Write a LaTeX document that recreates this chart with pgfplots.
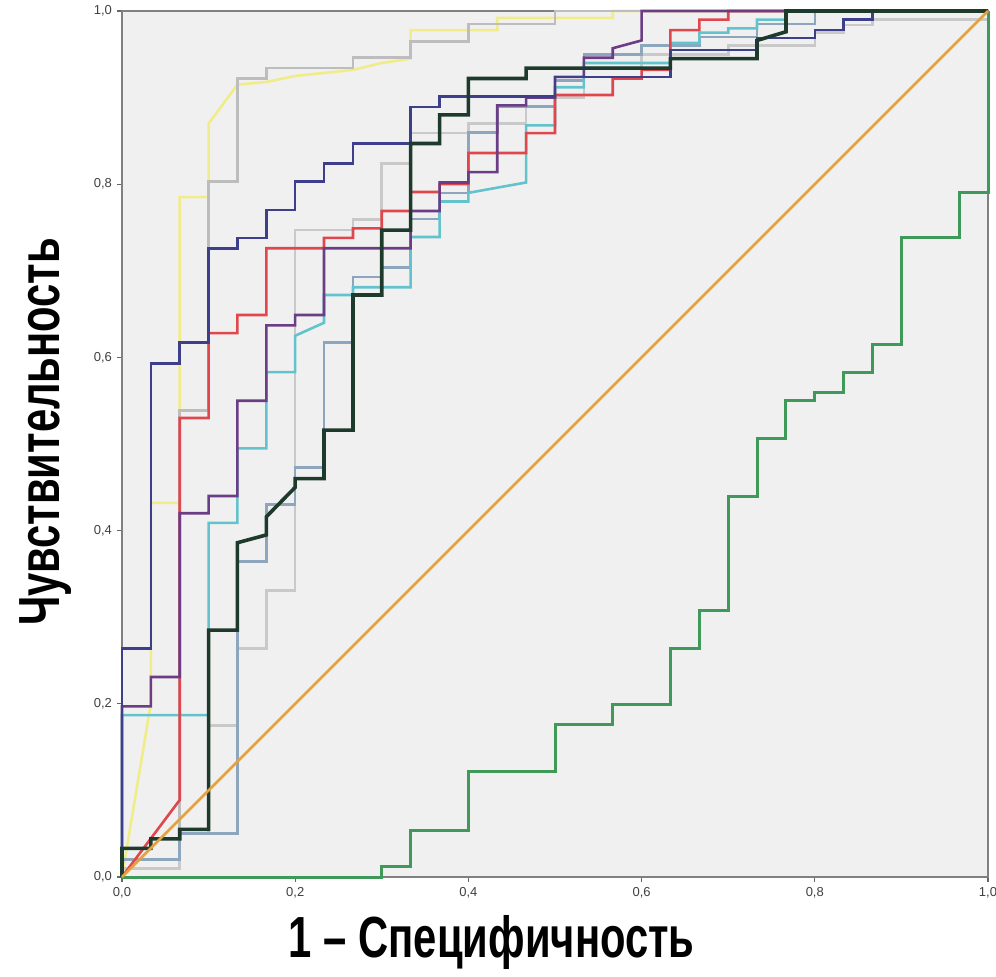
\documentclass[border=0pt]{standalone}
\usepackage{fontspec}
\setmainfont{Liberation Sans}
\newfontfamily\labelfont[FakeStretch=0.72]{Liberation Sans}
\usepackage{pgfplots}
\pgfplotsset{compat=1.18}

\definecolor{cyellow}{HTML}{F0EC8A}
\definecolor{cgrayA}{HTML}{BDBDBD}
\definecolor{cgrayB}{HTML}{C9C9C9}
\definecolor{csteel}{HTML}{8EA6BD}
\definecolor{ccyan}{HTML}{63C3CC}
\definecolor{cred}{HTML}{E0474C}
\definecolor{cpurple}{HTML}{6B3D84}
\definecolor{cnavy}{HTML}{3D3F8A}
\definecolor{cdkgreen}{HTML}{1E3A2C}
\definecolor{cgreen}{HTML}{3F9A5A}
\definecolor{corange}{HTML}{E5A13A}

\begin{document}
\begin{tikzpicture}
\begin{axis}[
    scale only axis,
    width=433pt, height=433pt,
    xmin=0, xmax=1, ymin=0, ymax=1,
    clip=false,
    axis background/.style={fill=black!6},
    axis line style={black!50, line width=0.8pt},
    xtick={0,0.2,...,1.0}, ytick={0,0.2,...,1.0},
    tick pos=left,
    tick align=outside,
    major tick length=2.5pt,
    tick style={black!60, line width=0.6pt},
    ticklabel style={font=\fontsize{6.5}{7}\selectfont, text=black!75},
    /pgf/number format/.cd, use comma, fixed, fixed zerofill, precision=1, assume math mode=true,
    /pgfplots/.cd,
    xticklabel style={yshift=1pt},
    yticklabel style={xshift=1pt},
    xlabel={1 – Специфичность},
    ylabel={Чувствительность},
    label style={font=\labelfont\bfseries\fontsize{29}{30}\selectfont},
    x label style={at={(rel axis cs:0.427,-0.0935)}, anchor=base},
    y label style={at={(rel axis cs:-0.0716,0.514)}, anchor=base},
    every axis plot/.append style={line width=1.3pt, line join=miter},
]
% yellow
\addplot[cyellow] coordinates {(0,0)(0.0333,0.2)(0.0333,0.432)(0.0667,0.432)(0.0667,0.785)(0.1,0.785)(0.1,0.87)(0.1333,0.915)(0.1667,0.918)(0.2,0.925)(0.2667,0.932)(0.3,0.94)(0.3333,0.945)(0.3333,0.978)(0.4333,0.978)(0.4333,0.992)(0.5667,0.992)(0.5667,1)(1,1)};
% upper gray
\addplot[cgrayA] coordinates {(0,0)(0,0.01)(0.0667,0.01)(0.0667,0.539)(0.1,0.539)(0.1,0.803)(0.1333,0.803)(0.1333,0.922)(0.1667,0.922)(0.1667,0.934)(0.2667,0.934)(0.2667,0.946)(0.3333,0.946)(0.3333,0.965)(0.4,0.965)(0.4,0.985)(0.5,0.985)(0.5,1)(1,1)};
% lower gray
\addplot[cgrayB] coordinates {(0,0)(0,0.01)(0.0667,0.01)(0.0667,0.05)(0.1,0.05)(0.1,0.175)(0.1333,0.175)(0.1333,0.264)(0.1667,0.264)(0.1667,0.331)(0.2,0.331)(0.2,0.747)(0.2667,0.747)(0.2667,0.759)(0.3,0.759)(0.3,0.824)(0.3333,0.824)(0.3333,0.859)(0.4,0.859)(0.4,0.87)(0.4667,0.87)(0.4667,0.9)(0.5333,0.9)(0.5333,0.935)(0.6,0.935)(0.6,0.95)(0.7,0.95)(0.7,0.96)(0.8,0.96)(0.8,0.975)(0.8333,0.975)(0.8333,0.984)(0.8667,0.984)(0.8667,0.99)(1,0.99)(1,1)};
% steel blue
\addplot[csteel] coordinates {(0,0)(0,0.02)(0.0667,0.02)(0.0667,0.05)(0.1333,0.05)(0.1333,0.364)(0.1667,0.364)(0.1667,0.43)(0.2,0.43)(0.2,0.473)(0.2333,0.473)(0.2333,0.617)(0.2667,0.617)(0.2667,0.693)(0.3,0.693)(0.3,0.704)(0.3333,0.704)(0.3333,0.76)(0.3667,0.76)(0.3667,0.79)(0.4,0.79)(0.4,0.86)(0.4333,0.86)(0.4333,0.89)(0.5,0.89)(0.5,0.92)(0.5333,0.92)(0.5333,0.95)(0.6,0.95)(0.6,0.96)(0.6667,0.96)(0.6667,0.97)(0.7333,0.97)(0.7333,0.985)(0.8,0.985)(0.8,1)(1,1)};
% cyan
\addplot[ccyan] coordinates {(0,0)(0,0.187)(0.1,0.187)(0.1,0.409)(0.1333,0.409)(0.1333,0.495)(0.1667,0.495)(0.1667,0.583)(0.2,0.583)(0.2,0.625)(0.2333,0.64)(0.2333,0.672)(0.2667,0.672)(0.2667,0.681)(0.3333,0.681)(0.3333,0.739)(0.3667,0.739)(0.3667,0.78)(0.4,0.78)(0.4,0.79)(0.4667,0.802)(0.4667,0.868)(0.5,0.868)(0.5,0.912)(0.5333,0.912)(0.5333,0.94)(0.6333,0.94)(0.6333,0.963)(0.6667,0.963)(0.6667,0.975)(0.7,0.975)(0.7,0.98)(0.7333,0.98)(0.7333,0.99)(0.7667,0.99)(0.7667,1)(1,1)};
% red
\addplot[cred] coordinates {(0,0)(0.0667,0.089)(0.0667,0.53)(0.1,0.53)(0.1,0.628)(0.1333,0.628)(0.1333,0.649)(0.1667,0.649)(0.1667,0.726)(0.2333,0.726)(0.2333,0.738)(0.2667,0.738)(0.2667,0.749)(0.3,0.749)(0.3,0.769)(0.3333,0.769)(0.3333,0.791)(0.3667,0.791)(0.3667,0.8)(0.4,0.8)(0.4,0.836)(0.4667,0.836)(0.4667,0.859)(0.5,0.859)(0.5,0.903)(0.5667,0.903)(0.5667,0.922)(0.6,0.922)(0.6,0.932)(0.6333,0.932)(0.6333,0.978)(0.6667,0.978)(0.6667,0.99)(0.7,0.99)(0.7,1)(1,1)};
% purple
\addplot[cpurple] coordinates {(0,0)(0,0.197)(0.0333,0.197)(0.0333,0.231)(0.0667,0.231)(0.0667,0.42)(0.1,0.42)(0.1,0.44)(0.1333,0.44)(0.1333,0.55)(0.1667,0.55)(0.1667,0.637)(0.2,0.637)(0.2,0.649)(0.2333,0.649)(0.2333,0.726)(0.3333,0.726)(0.3333,0.769)(0.3667,0.769)(0.3667,0.802)(0.4,0.802)(0.4,0.814)(0.4333,0.814)(0.4333,0.891)(0.4667,0.891)(0.4667,0.9)(0.5,0.9)(0.5,0.924)(0.5333,0.924)(0.5333,0.946)(0.5667,0.946)(0.5667,0.957)(0.6,0.966)(0.6,1)(1,1)};
% navy
\addplot[cnavy] coordinates {(0,0)(0,0.264)(0.0333,0.264)(0.0333,0.593)(0.0667,0.593)(0.0667,0.617)(0.1,0.617)(0.1,0.726)(0.1333,0.726)(0.1333,0.738)(0.1667,0.738)(0.1667,0.77)(0.2,0.77)(0.2,0.803)(0.2333,0.803)(0.2333,0.824)(0.2667,0.824)(0.2667,0.847)(0.3333,0.847)(0.3333,0.889)(0.3667,0.889)(0.3667,0.901)(0.5,0.901)(0.5,0.924)(0.6333,0.924)(0.6333,0.955)(0.7333,0.955)(0.7333,0.969)(0.8,0.969)(0.8,0.978)(0.8333,0.978)(0.8333,0.99)(0.8667,0.99)(0.8667,1)(1,1)};
% dark green
\addplot[cdkgreen, line width=1.8pt] coordinates {(0,0)(0,0.033)(0.0333,0.033)(0.0333,0.044)(0.0667,0.044)(0.0667,0.055)(0.1,0.055)(0.1,0.285)(0.1333,0.285)(0.1333,0.386)(0.1667,0.395)(0.1667,0.416)(0.2,0.45)(0.2,0.46)(0.2333,0.46)(0.2333,0.516)(0.2667,0.516)(0.2667,0.672)(0.3,0.672)(0.3,0.747)(0.3333,0.747)(0.3333,0.847)(0.3667,0.847)(0.3667,0.88)(0.4,0.88)(0.4,0.922)(0.4667,0.922)(0.4667,0.934)(0.6333,0.934)(0.6333,0.945)(0.7333,0.945)(0.7333,0.966)(0.7667,0.976)(0.7667,1)(1,1)};
% green
\addplot[cgreen, line width=1.5pt] coordinates {(0,0)(0.3,0)(0.3,0.012)(0.3333,0.012)(0.3333,0.054)(0.4,0.054)(0.4,0.122)(0.5,0.122)(0.5,0.176)(0.5667,0.176)(0.5667,0.199)(0.6333,0.199)(0.6333,0.264)(0.6667,0.264)(0.6667,0.308)(0.7,0.308)(0.7,0.439)(0.7333,0.439)(0.7333,0.506)(0.7667,0.506)(0.7667,0.55)(0.8,0.55)(0.8,0.56)(0.8333,0.56)(0.8333,0.582)(0.8667,0.582)(0.8667,0.615)(0.9,0.615)(0.9,0.738)(0.9667,0.738)(0.9667,0.79)(1,0.79)(1,1)};
% reference line
\addplot[corange, line width=1.4pt] coordinates {(0,0)(1,1)};
\end{axis}
\pgfresetboundingbox
\useasboundingbox (-61pt,-49.5pt) rectangle (437pt,438.5pt);
\end{tikzpicture}
\end{document}
